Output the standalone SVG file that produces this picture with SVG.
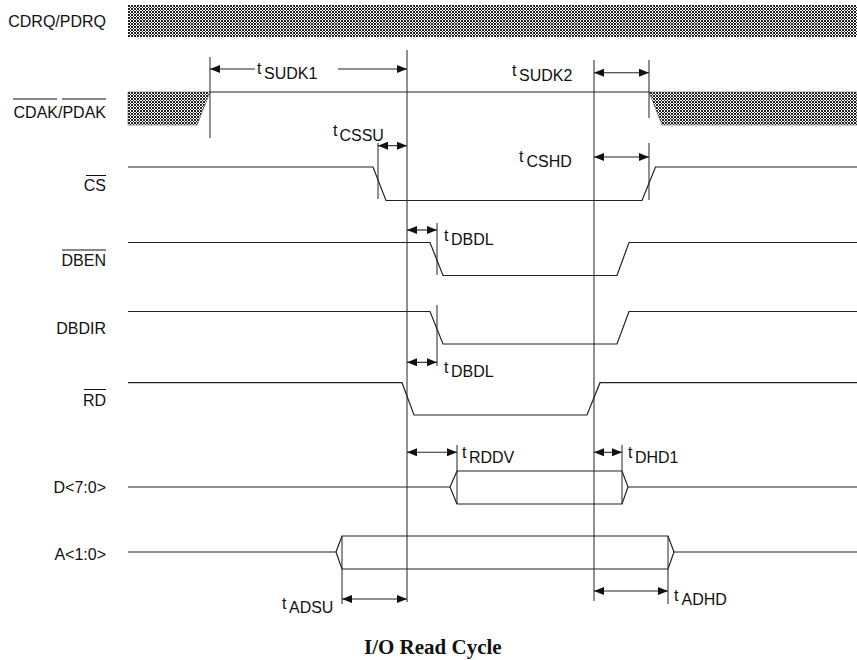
<svg xmlns="http://www.w3.org/2000/svg" width="857" height="660" viewBox="0 0 857 660">
<style>
.sig{fill:none;stroke:#222;stroke-width:1.2}
.vl{fill:none;stroke:#222;stroke-width:1}
.arr{fill:none;stroke:#222;stroke-width:1.1;marker-start:url(#ah);marker-end:url(#ah)}
.arrE{fill:none;stroke:#222;stroke-width:1.1;marker-end:url(#ah)}
.arrS{fill:none;stroke:#222;stroke-width:1.1;marker-start:url(#ah)}
.lbl{font-family:"Liberation Sans",Arial,sans-serif;font-size:16px;fill:#111;text-anchor:end}
.tl{font-family:"Liberation Sans",Arial,sans-serif;font-size:16px;fill:#111}
.ov{stroke:#111;stroke-width:1}
.hatch{fill:url(#hp);stroke:#555;stroke-width:0.6}
.title{font-family:"Liberation Serif","Times New Roman",serif;font-size:21px;font-weight:bold;fill:#111}
</style>
<defs>
<pattern id="hp" width="3" height="3" patternUnits="userSpaceOnUse">
<rect width="3" height="3" fill="#fff"/>
<path d="M0,0 L3,3 M3,0 L0,3" stroke="#222" stroke-width="1"/>
</pattern>
<marker id="ah" viewBox="0 0 10 8" refX="10" refY="4" markerWidth="10" markerHeight="8" markerUnits="userSpaceOnUse" orient="auto-start-reverse">
<path d="M0,0 L10,4 L0,8 Z" fill="#111"/>
</marker>
</defs>
<rect width="857" height="660" fill="#fff"/>

<g id="labels">
<text class="lbl" x="106" y="27">CDRQ/PDRQ</text>
<g id="lbl-cdak">
<text class="lbl" x="106" y="118">CDAK/PDAK</text>
<line class="ov" x1="13" y1="99" x2="57" y2="99"/>
<line class="ov" x1="62" y1="99" x2="106" y2="99"/>
</g>
<g id="lbl-cs">
<text class="lbl" x="106" y="191">CS</text>
<line class="ov" x1="86" y1="175.5" x2="106" y2="175.5"/>
</g>
<g id="lbl-dben">
<text class="lbl" x="106" y="266">DBEN</text>
<line class="ov" x1="62" y1="250" x2="106" y2="250"/>
</g>
<text class="lbl" x="106" y="334">DBDIR</text>
<g id="lbl-rd">
<text class="lbl" x="106" y="406">RD</text>
<line class="ov" x1="84" y1="389.5" x2="106" y2="389.5"/>
</g>
<text class="lbl" x="106" y="492.5">D&lt;7:0&gt;</text>
<text class="lbl" x="106" y="560">A&lt;1:0&gt;</text>
</g>

<g id="CDRQ">
<rect x="128" y="5" width="729" height="32" fill="url(#hp)"/>
</g>

<g id="CDAK">
<polygon class="hatch" points="128,92 210,92 197,125 128,125"/>
<polygon class="hatch" points="649,92 857,92 857,125 662,125"/>
<path class="sig" d="M210,92 H649"/>
</g>

<g id="CS"><path class="sig" d="M128,167 H373 L386,200.5 H642 L655.5,167 H857"/></g>
<g id="DBEN"><path class="sig" d="M128,242.5 H430 L443,275.5 H617 L629,242.5 H857"/></g>
<g id="DBDIR"><path class="sig" d="M128,311.5 H430 L443,344 H617 L629,311.5 H857"/></g>
<g id="RD"><path class="sig" d="M128,382.7 H402 L414,415 H587 L600,382.7 H857"/></g>
<g id="D">
<path class="sig" d="M128,487 H450 M628,487 H857"/>
<path class="sig" d="M450,487 L457,471 H622 L628,487 L622,504 H457 Z"/>
</g>
<g id="A">
<path class="sig" d="M128,552 H336 M674,552 H857"/>
<path class="sig" d="M336,552 L342,536 H668 L674,552 L668,569 H342 Z"/>
</g>

<g id="connectors">
<path class="vl" d="M210,57 V138"/>
<path class="vl" d="M407,50 V602"/>
<path class="vl" d="M594,60 V601"/>
<path class="vl" d="M649,60 V118 M649,143 V200"/>
<path class="vl" d="M378,143 V199"/>
<path class="vl" d="M437,223 V275 M437,305 V366"/>
<path class="vl" d="M457,445 V504 M622,445 V504"/>
<path class="vl" d="M342,536 V604 M668,536 V604"/>

<path class="arrS" d="M210,69 H255"/>
<path class="arrE" d="M338,69 H407"/>
<path class="arr" d="M594,72.7 H649"/>
<path class="arr" d="M378,145.7 H407"/>
<path class="arr" d="M594,157 H649"/>
<path class="arr" d="M407,230 H437"/>
<path class="arr" d="M407,362.3 H437"/>
<path class="arr" d="M407,452.3 H457"/>
<path class="arr" d="M594,452.3 H622"/>
<path class="arr" d="M342,599 H407"/>
<path class="arr" d="M594,591 H668"/>
</g>

<g id="timing-labels">
<text class="tl" x="257" y="73.5">t<tspan dx="2.5" dy="5">SUDK1</tspan></text>
<text class="tl" x="512" y="75.5">t<tspan dx="2.5" dy="5">SUDK2</tspan></text>
<text class="tl" x="333" y="136">t<tspan dx="2" dy="5">CSSU</tspan></text>
<text class="tl" x="519" y="161.5">t<tspan dx="3" dy="5">CSHD</tspan></text>
<text class="tl" x="444" y="241">t<tspan dx="2.5" dy="4">DBDL</tspan></text>
<text class="tl" x="444" y="373">t<tspan dx="2.5" dy="4">DBDL</tspan></text>
<text class="tl" x="462" y="457.5">t<tspan dx="2.5" dy="5">RDDV</tspan></text>
<text class="tl" x="628" y="457.5">t<tspan dx="2.5" dy="5">DHD1</tspan></text>
<text class="tl" x="282" y="609">t<tspan dx="2.5" dy="4">ADSU</tspan></text>
<text class="tl" x="674" y="601">t<tspan dx="3" dy="4">ADHD</tspan></text>
</g>

<text class="title" x="364" y="654">I/O Read Cycle</text>
</svg>
